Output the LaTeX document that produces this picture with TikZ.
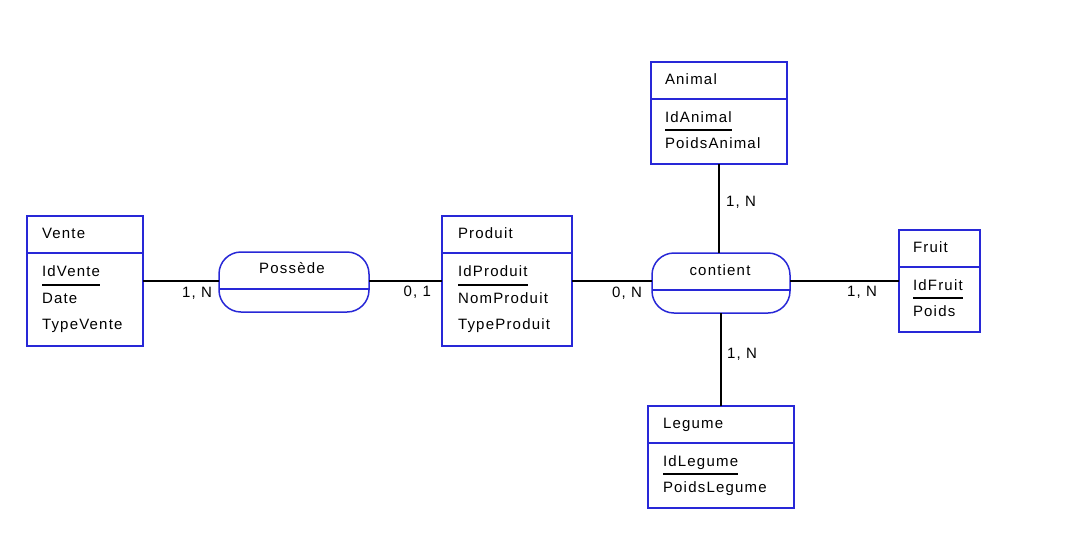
\documentclass[tikz,border=0pt]{standalone}
\usepackage{fontspec}
\newfontfamily\erfont{Liberation Sans}[LetterSpace=8]
\definecolor{erblue}{RGB}{40,40,215}
\tikzset{
  ent/.style={draw=erblue, line width=1.5pt, rectangle, inner sep=0pt, outer sep=0pt, anchor=north west},
  rel/.style={draw=erblue, line width=1.5pt, rectangle, rounded corners=22pt, inner sep=0pt, outer sep=0pt, anchor=north west},
  sepline/.style={draw=erblue, line width=1.5pt},
  txt/.style={inner sep=0pt, outer sep=0pt, font=\erfont\fontsize{15}{17}\selectfont, text=black},
  uline/.style={draw=black, line width=1.3pt},
  conn/.style={draw=black, line width=1.6pt},
  card/.style={txt}
}
\begin{document}
\begin{tikzpicture}[x=1pt,y=-1pt]
\useasboundingbox (0,0) rectangle (1079,558);
\fill[white] (0,0) rectangle (1079,558);

% ---------- Vente ----------
\node[ent, minimum width=116pt, minimum height=130pt] (vente) at (27,216) {};
\draw[sepline] ([yshift=-37pt]vente.north west) -- ([yshift=-37pt]vente.north east);
\node[txt, anchor=base west] (venteT) at (42,238) {Vente};
\node[txt, anchor=base west] (venteA) at (42,276) {IdVente};
\node[txt, anchor=base west] (venteB) at (42,303) {Date};
\node[txt, anchor=base west] (venteC) at (42,329) {TypeVente};
\draw[uline] ([yshift=-9pt]venteA.base west) -- ([yshift=-9pt]venteA.base east);

% ---------- Possede ----------
\node[rel, minimum width=150pt, minimum height=60pt] (possede) at (219,252) {};
\draw[sepline] ([yshift=-37pt]possede.north west) -- ([yshift=-37pt]possede.north east);
\node[txt, anchor=base] (possedeT) at (292,273) {Possède};

% ---------- Produit ----------
\node[ent, minimum width=130pt, minimum height=130pt] (produit) at (442,216) {};
\draw[sepline] ([yshift=-37pt]produit.north west) -- ([yshift=-37pt]produit.north east);
\node[txt, anchor=base west] (produitT) at (458,238) {Produit};
\node[txt, anchor=base west] (produitA) at (458,276) {IdProduit};
\node[txt, anchor=base west] (produitB) at (458,303) {NomProduit};
\node[txt, anchor=base west] (produitC) at (458,329) {TypeProduit};
\draw[uline] ([yshift=-9pt]produitA.base west) -- ([yshift=-9pt]produitA.base east);

% ---------- contient ----------
\node[rel, minimum width=138pt, minimum height=60pt] (contient) at (652,253) {};
\draw[sepline] ([yshift=-37pt]contient.north west) -- ([yshift=-37pt]contient.north east);
\node[txt, anchor=base] (contientT) at (720,275) {contient};

% ---------- Animal ----------
\node[ent, minimum width=136pt, minimum height=102pt] (animal) at (651,62) {};
\draw[sepline] ([yshift=-37pt]animal.north west) -- ([yshift=-37pt]animal.north east);
\node[txt, anchor=base west] (animalT) at (665,84) {Animal};
\node[txt, anchor=base west] (animalA) at (665,122) {IdAnimal};
\node[txt, anchor=base west] (animalB) at (665,148) {PoidsAnimal};
\draw[uline] ([yshift=-8pt]animalA.base west) -- ([yshift=-8pt]animalA.base east);

% ---------- Fruit ----------
\node[ent, minimum width=81pt, minimum height=102pt] (fruit) at (899,230) {};
\draw[sepline] ([yshift=-37pt]fruit.north west) -- ([yshift=-37pt]fruit.north east);
\node[txt, anchor=base west] (fruitT) at (913,252) {Fruit};
\node[txt, anchor=base west] (fruitA) at (913,290) {IdFruit};
\node[txt, anchor=base west] (fruitB) at (913,316) {Poids};
\draw[uline] ([yshift=-8pt]fruitA.base west) -- ([yshift=-8pt]fruitA.base east);

% ---------- Legume ----------
\node[ent, minimum width=146pt, minimum height=102pt] (legume) at (648,406) {};
\draw[sepline] ([yshift=-37pt]legume.north west) -- ([yshift=-37pt]legume.north east);
\node[txt, anchor=base west] (legumeT) at (663,428) {Legume};
\node[txt, anchor=base west] (legumeA) at (663,466) {IdLegume};
\node[txt, anchor=base west] (legumeB) at (663,492) {PoidsLegume};
\draw[uline] ([yshift=-8pt]legumeA.base west) -- ([yshift=-8pt]legumeA.base east);

% ---------- connectors ----------
\draw[conn] (vente.east) -- (vente.east -| possede.west);
\draw[conn] (possede.east |- produit.west) -- (produit.west);
\draw[conn] (produit.east) -- (produit.east -| contient.west);
\draw[conn] (contient.east |- fruit.west) -- (fruit.west);
\draw[conn] (animal.south) -- (animal.south |- contient.north);
\draw[conn] (legume.north) -- (legume.north |- contient.south);

% ---------- cardinalities ----------
\node[card, anchor=base east] (c1) at (212,297) {1, N};
\node[card, anchor=base east] (c2) at (431,296) {0, 1};
\node[card, anchor=base east] (c3) at (642,297) {0, N};
\node[card, anchor=base west] (c4) at (726,206) {1, N};
\node[card, anchor=base east] (c5) at (877,296) {1, N};
\node[card, anchor=base west] (c6) at (727,358) {1, N};
\end{tikzpicture}
\end{document}
